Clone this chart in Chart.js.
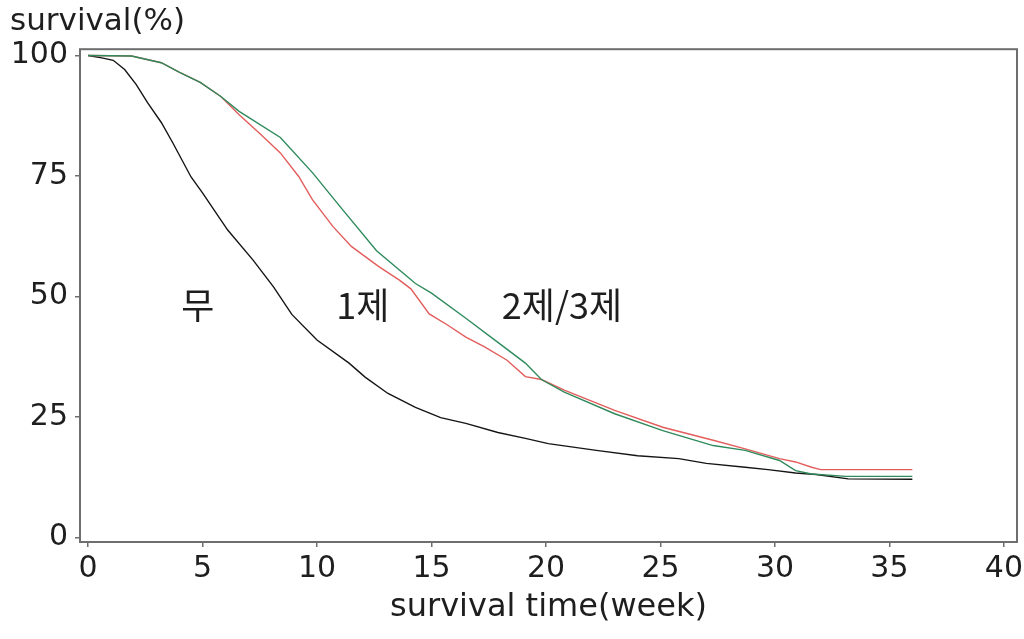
<!DOCTYPE html>
<html>
<head>
<meta charset="utf-8">
<title>survival</title>
<script src="https://cdn.jsdelivr.net/npm/chart.js@4.4.0/dist/chart.umd.min.js"></script>
<style>
  html, body { margin: 0; padding: 0; background: #fff; }
  #wrap { width: 1024px; height: 639px; }
</style>
</head>
<body>
<div id="wrap"><canvas id="survChart"></canvas></div>
<script>
// survival (%) against week, one pair of arrays per group
const weeksNone = [0, 0.6, 1.1, 1.6, 2.1, 2.6, 3.2, 3.7, 4.5, 5.0, 6.1, 7.2, 8.1, 8.9, 10.0, 11.4, 12.1, 13.1, 14.3, 15.4, 16.5, 17.9, 19.1, 20.1, 22.2, 24.0, 25.8, 27.0, 28.7, 29.7, 30.9, 31.8, 33.2, 36];
const survNone  = [100, 99.5, 99.0, 97.1, 94.0, 90.2, 86.1, 81.9, 74.8, 71.5, 63.8, 57.6, 52.0, 46.3, 41.0, 36.2, 33.3, 29.9, 27.0, 24.9, 23.7, 21.8, 20.6, 19.5, 18.1, 17.0, 16.4, 15.4, 14.6, 14.1, 13.4, 13.1, 12.2, 12.1];

const weeksOne = [0, 1.9, 3.2, 4.0, 4.9, 5.8, 6.6, 7.5, 8.4, 9.2, 9.8, 10.7, 11.5, 12.7, 13.6, 14.1, 14.9, 15.7, 16.5, 17.3, 18.3, 19.1, 19.8, 20.8, 23.0, 25.1, 27.3, 28.7, 30.2, 30.9, 31.6, 32.0, 36];
const survOne  = [100, 99.9, 98.5, 96.5, 94.4, 91.5, 87.7, 83.8, 79.8, 74.9, 70.1, 64.5, 60.4, 56.2, 53.4, 51.6, 46.4, 44.1, 41.6, 39.6, 36.8, 33.4, 32.8, 30.6, 26.4, 22.9, 20.2, 18.4, 16.4, 15.7, 14.6, 14.1, 14.1];

const weeksMulti = [0, 1.9, 3.2, 4.0, 4.9, 5.8, 6.6, 8.4, 9.8, 11.0, 12.6, 14.3, 15.0, 16.5, 17.9, 19.1, 19.8, 20.8, 23.0, 25.1, 27.3, 28.7, 30.2, 30.9, 31.6, 33.1, 36];
const survMulti  = [100, 99.9, 98.5, 96.5, 94.4, 91.5, 88.4, 83.0, 75.7, 68.7, 59.5, 52.7, 50.7, 45.5, 40.5, 36.2, 32.8, 30.2, 25.7, 22.2, 19.1, 18.1, 16.0, 13.9, 13.2, 12.7, 12.7];

// group names written inside the plot
const groupNames = ['무', '1제', '2제/3제'];
const groupNameWeek = [4.8, 12.0, 20.7];
const groupNameSurv = 48.2;

const xTicks = [0, 5, 10, 15, 20, 25, 30, 35, 40];
const yTicks = [0, 25, 50, 75, 100];

const axisColor = '#6e6e6e';
const textColor = '#1e1e1e';
const tickFont = { family: 'DejaVu Sans', size: 30 };

function toPoints(xs, ys) {
  return xs.map((x, i) => ({ x: x, y: ys[i] }));
}

// frame round the plot area plus the group names
const frameAndNames = {
  id: 'frameAndNames',
  afterDatasetsDraw(chart) {
    const { ctx, chartArea: a, scales } = chart;
    ctx.save();
    ctx.strokeStyle = axisColor;
    ctx.lineWidth = 2;
    ctx.strokeRect(a.left, a.top, a.right - a.left, a.bottom - a.top);

    ctx.fillStyle = textColor;
    ctx.font = '36px "Noto Sans CJK KR"';
    ctx.textAlign = 'center';
    ctx.textBaseline = 'middle';
    groupNames.forEach((name, i) => {
      ctx.fillText(name, scales.x.getPixelForValue(groupNameWeek[i]), scales.y.getPixelForValue(groupNameSurv));
    });
    ctx.restore();
  }
};

function lineSet(label, xs, ys, color) {
  return {
    label: label,
    data: toPoints(xs, ys),
    borderColor: color,
    borderWidth: 1.4,
    pointRadius: 0,
    tension: 0,
    fill: false
  };
}

new Chart(document.getElementById('survChart'), {
  type: 'line',
  data: {
    datasets: [
      lineSet('2제/3제', weeksMulti, survMulti, '#2f8a5c'),
      lineSet('1제', weeksOne, survOne, '#e35d5d'),
      lineSet('무', weeksNone, survNone, '#151515')
    ]
  },
  options: {
    responsive: true,
    maintainAspectRatio: false,
    animation: false,
    layout: { padding: { left: 10, right: 7, top: 2, bottom: 0 } },
    plugins: {
      legend: { display: false },
      tooltip: { enabled: false },
      title: {
        display: true,
        text: 'survival(%)',
        align: 'start',
        color: textColor,
        font: { family: 'DejaVu Sans', size: 31, weight: 'normal' },
        padding: { top: 1, bottom: 9 }
      }
    },
    scales: {
      x: {
        type: 'linear',
        min: -0.35,
        max: 40.57,
        afterBuildTicks: (s) => { s.ticks = xTicks.map(v => ({ value: v })); },
        afterFit: (s) => { s.height = 97; s.paddingLeft = 0; s.paddingRight = 0; },
        ticks: { color: textColor, font: tickFont, padding: 4, maxRotation: 0, autoSkip: false },
        grid: { drawOnChartArea: false, drawTicks: true, tickLength: 5, color: axisColor, lineWidth: 1.5 },
        border: { display: false },
        title: {
          display: true,
          text: 'survival time(week)',
          color: textColor,
          font: { family: 'DejaVu Sans', size: 32 },
          padding: { top: 0, bottom: 12 }
        }
      },
      y: {
        type: 'linear',
        min: -0.9,
        max: 101.3,
        afterBuildTicks: (s) => { s.ticks = yTicks.map(v => ({ value: v })); },
        afterFit: (s) => { s.width = 70; s.paddingTop = 0; s.paddingBottom = 0; },
        ticks: { color: textColor, font: tickFont, padding: 7, autoSkip: false },
        grid: { drawOnChartArea: false, drawTicks: true, tickLength: 5, color: axisColor, lineWidth: 1.5 },
        border: { display: false }
      }
    }
  },
  plugins: [frameAndNames]
});
</script>
</body>
</html>
